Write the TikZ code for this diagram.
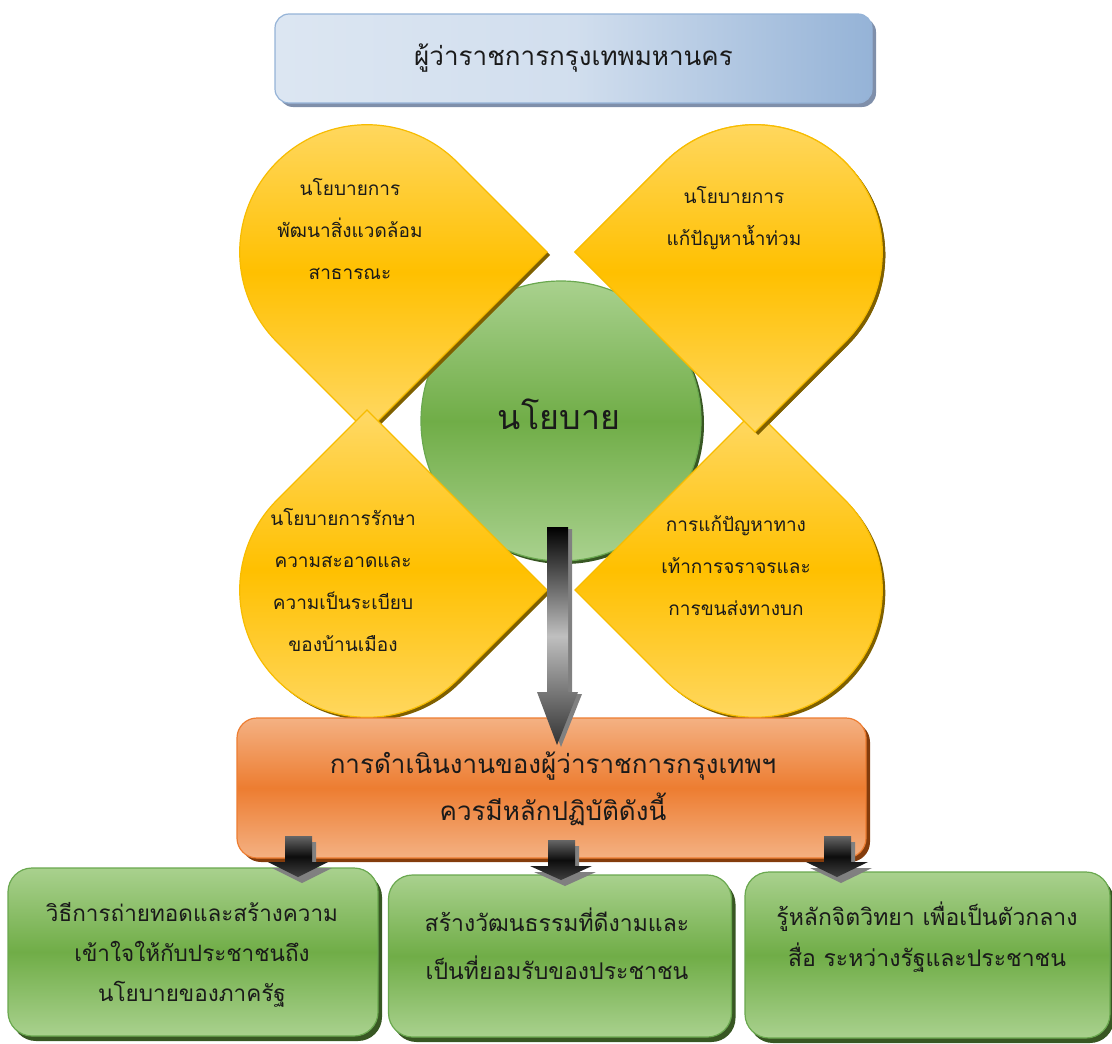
\documentclass[tikz,border=0pt]{standalone}
\usepackage{fontspec}
\newfontfamily\thai[Script=Thai]{Loma}
\usetikzlibrary{shadows}
\definecolor{yL}{HTML}{FFD966}
\definecolor{yM}{HTML}{FFC000}
\definecolor{yEdge}{HTML}{F7BC00}
\definecolor{yShadow}{HTML}{7F6000}
\definecolor{gL}{HTML}{A9D18E}
\definecolor{gM}{HTML}{70AD47}
\definecolor{gEdge}{HTML}{6AA84F}
\definecolor{gShadow}{HTML}{385723}
\definecolor{oL}{HTML}{F4B183}
\definecolor{oM}{HTML}{ED7D31}
\definecolor{oShadow}{HTML}{843C0C}
\definecolor{bL}{HTML}{DCE6F2}
\definecolor{bM}{HTML}{95B3D7}
\definecolor{bShadow}{HTML}{7F8FAA}
\definecolor{txt}{HTML}{1A1A1A}
\begin{document}
\begin{tikzpicture}[x=1pt,y=-1pt,
  petal/.style={draw=yEdge, line width=1.2pt, top color=yL, bottom color=yL, middle color=yM,
    general shadow={fill=yShadow, shadow xshift=3pt, shadow yshift=-3pt}},
  petaltext/.style={text=txt, align=center, font=\thai\fontsize{19}{42}\selectfont},
  topbox/.style={draw=bM, line width=1.2pt, rounded corners=14pt, left color=bL, right color=bM, middle color=bL!85!bM,
    general shadow={fill=bShadow, shadow xshift=4pt, shadow yshift=-4pt}},
  hub/.style={circle, draw=gEdge, line width=1.2pt, top color=gL, bottom color=gL, middle color=gM,
    general shadow={fill=gShadow, shadow xshift=3pt, shadow yshift=-3pt}},
  obox/.style={draw=oM, line width=1.2pt, rounded corners=20pt, top color=oL, bottom color=oL, middle color=oM,
    general shadow={fill=oShadow, shadow xshift=4pt, shadow yshift=-4pt}},
  gbox/.style={draw=gEdge, line width=1.2pt, rounded corners=24pt, top color=gL, bottom color=gL, middle color=gM,
    general shadow={fill=gShadow, shadow xshift=4pt, shadow yshift=-5pt}},
  boxtext/.style={text=txt, align=center, font=\thai\fontsize{23}{40}\selectfont},
  bigarrow/.style={top color=black, bottom color=black!80, middle color=black!25,
    general shadow={fill=black!50, shadow xshift=4pt, shadow yshift=-2pt}},
  smallarrow/.style={top color=black!60, bottom color=black!75, middle color=black!95,
    general shadow={fill=black!50, shadow xshift=4pt, shadow yshift=-6pt}},
]
\useasboundingbox (0,0) rectangle (1112,1044);

% top box
\node[topbox, minimum width=597pt, minimum height=89pt, inner sep=0pt,
  text=txt, font=\thai\fontsize{26}{30}\selectfont] (gov) at (573.5,58.5) {ผู้ว่าราชการกรุงเทพมหานคร};

% central circle
\node[hub, minimum size=280pt, inner sep=0pt] (hub) at (561,421) {};
\node[text=txt, font=\thai\fontsize{34}{40}\selectfont] (hubtext) at (559,414) {นโยบาย};

% petals
\path[petal] (547,252) -- (367,432) -- (277,342) arc[start angle=135, end angle=315, radius=127.28] -- cycle;
\path[petal] (755,432) -- (575,252) -- (665,162) arc[start angle=225, end angle=405, radius=127.28] -- cycle;
\path[petal] (575,590) -- (755,410) -- (845,500) arc[start angle=-45, end angle=135, radius=127.28] -- cycle;
\path[petal] (547,590) -- (367,410) -- (277,500) arc[start angle=225, end angle=45, radius=127.28] -- cycle;
% redraw top-right tip over lower-right petal
\path[petal] (755,432) -- (575,252) -- (665,162) arc[start angle=225, end angle=405, radius=127.28] -- cycle;

\node[petaltext] (p1) at (350,229) {นโยบายการ\\พัฒนาสิ่งแวดล้อม\\สาธารณะ};
\node[petaltext] (p2) at (734,218) {นโยบายการ\\แก้ปัญหาน้ำท่วม};
\node[petaltext] (p3) at (343,580) {นโยบายการรักษา\\ความสะอาดและ\\ความเป็นระเบียบ\\ของบ้านเมือง};
\node[petaltext] (p4) at (736,566) {การแก้ปัญหาทาง\\เท้าการจราจรและ\\การขนส่งทางบก};

% orange box
\node[obox, minimum width=629pt, minimum height=140pt, inner sep=0pt] (ops) at (551.5,788) {};
\node[text=txt, align=center, font=\thai\fontsize{26}{47}\selectfont] (opstext) at (553,789)
  {การดำเนินงานของผู้ว่าราชการกรุงเทพฯ\\ควรมีหลักปฏิบัติดังนี้};

% big arrow from hub to ops
\path[bigarrow] (547,527) -- (568,527) -- (568,692) -- (578,692) -- (557,745) -- (537,692) -- (547,692) -- cycle;

% green boxes
\node[gbox, minimum width=370pt, minimum height=168pt, inner sep=0pt] (g1) at (193,952) {};
\node[gbox, minimum width=343pt, minimum height=162pt, inner sep=0pt] (g2) at (560,956) {};
\node[gbox, minimum width=365pt, minimum height=166pt, inner sep=0pt] (g3) at (927.5,955) {};
\node[boxtext, font=\thai\fontsize{22.5}{40}\selectfont] (g1t) at (192,955) {วิธีการถ่ายทอดและสร้างความ\\เข้าใจให้กับประชาชนถึง\\นโยบายของภาครัฐ};
\node[boxtext, font=\thai\fontsize{23}{48}\selectfont] (g2t) at (557,944) {สร้างวัฒนธรรมที่ดีงามและ\\เป็นที่ยอมรับของประชาชน};
\node[boxtext, font=\thai\fontsize{23}{41}\selectfont] (g3t) at (927,937) {รู้หลักจิตวิทยา เพื่อเป็นตัวกลาง\\สื่อ ระหว่างรัฐและประชาชน};

% small arrows from ops to green boxes
\path[smallarrow] (285,836) -- (312,836) -- (312,862) -- (328,862) -- (298,877) -- (268,862) -- (285,862) -- cycle;
\path[smallarrow] (548,840) -- (575,840) -- (575,866) -- (592,866) -- (561,880) -- (530,866) -- (548,866) -- cycle;
\path[smallarrow] (824,836) -- (851,836) -- (851,862) -- (868,862) -- (837,877) -- (806,862) -- (824,862) -- cycle;
\end{tikzpicture}
\end{document}
